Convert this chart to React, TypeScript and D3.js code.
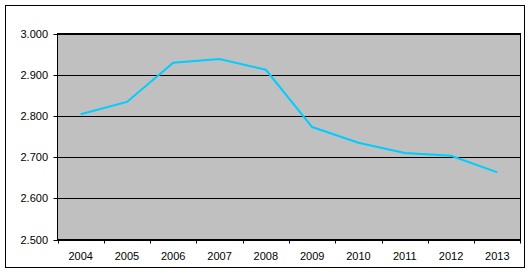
import React from "react";
import * as d3 from "d3";

const years = ["2004", "2005", "2006", "2007", "2008", "2009", "2010", "2011", "2012", "2013"];
const values = [2.804, 2.834, 2.929, 2.938, 2.912, 2.773, 2.735, 2.71, 2.703, 2.663];
const yTicks = [2.5, 2.6, 2.7, 2.8, 2.9, 3.0];

export default function App() {
  const W = 531, H = 274;
  const left = 57.5, right = 520.5, top = 33.5, bottom = 239.5;
  const x = d3.scaleBand<string>().domain(years).range([left, right]);
  const y = d3.scaleLinear().domain([2.5, 3.0]).range([bottom, top]);
  const fmt = (v: number) => d3.format(".3f")(v);
  const line = d3
    .line<number>()
    .x((_, i) => (x(years[i]) as number) + x.bandwidth() / 2)
    .y((d) => y(d));
  const font = "'Liberation Sans', Arial, sans-serif";
  return (
    <svg width={W} height={H} style={{ position: "absolute", left: 0, top: 0, background: "#fff" }}>
      <rect x={5.5} y={5.5} width={519} height={262} fill="#fff" stroke="#000" strokeWidth={1} />
      <rect x={left} y={top} width={right - left} height={bottom - top} fill="#C0C0C0" stroke="#000" strokeWidth={1} />
      {yTicks.map((t) => (
        <g key={t}>
          <line x1={left - 4} x2={right} y1={Math.round(y(t)) + 0.5} y2={Math.round(y(t)) + 0.5} stroke="#000" strokeWidth={1} />
          <text x={48} y={Math.round(y(t)) + 4} textAnchor="end" fontFamily={font} fontSize={11} fill="#000">
            {fmt(t)}
          </text>
        </g>
      ))}
      {years.map((yr) => (
        <g key={yr}>
          <line
            x1={Math.round(x(yr) as number) + 0.5}
            x2={Math.round(x(yr) as number) + 0.5}
            y1={bottom}
            y2={bottom + 4}
            stroke="#000"
          />
          <text
            x={(x(yr) as number) + x.bandwidth() / 2}
            y={260}
            textAnchor="middle"
            fontFamily={font}
            fontSize={11}
            fill="#000"
          >
            {yr}
          </text>
        </g>
      ))}
      <line x1={right} x2={right} y1={bottom} y2={bottom + 4} stroke="#000" />
      <path d={line(values) || ""} fill="none" stroke="#00CCFF" strokeWidth={2} />
    </svg>
  );
}
